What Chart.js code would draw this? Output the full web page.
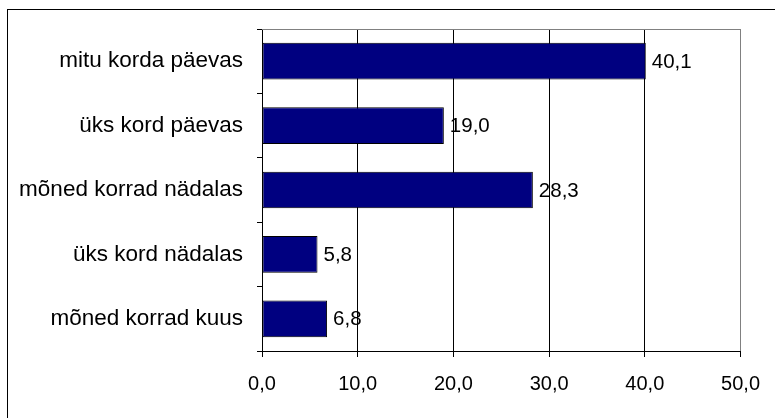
<!DOCTYPE html>
<html lang="et">
<head>
<meta charset="UTF-8">
<title>Sagedus</title>
<script src="https://cdn.jsdelivr.net/npm/chart.js@4.4.1/dist/chart.umd.min.js"></script>
<style>
  html, body { margin: 0; padding: 0; background: #fff; }
  #wrap { position: relative; width: 775px; height: 418px; }
</style>
</head>
<body>
<div id="wrap"><canvas id="c" width="775" height="418"></canvas></div>
<script>
// andmed
const categories = ['mitu korda päevas', 'üks kord päevas', 'mõned korrad nädalas', 'üks kord nädalas', 'mõned korrad kuus'];
const values = [40.1, 19.0, 28.3, 5.8, 6.8];
const xTicks = [0, 10, 20, 30, 40, 50];

const fmt = v => v.toFixed(1).replace('.', ',');
const FONT = "'Liberation Sans', Arial, sans-serif";

// raam ja plotiala ülemine joon
const framePlugin = {
  id: 'frame',
  beforeDatasetsDraw(chart) {
    const { ctx, chartArea: a } = chart;
    ctx.save();
    ctx.strokeStyle = '#808080';
    ctx.lineWidth = 1;
    ctx.beginPath();
    ctx.moveTo(a.left, a.top + 0.5);
    ctx.lineTo(a.right, a.top + 0.5);
    ctx.stroke();
    ctx.restore();
  },
  afterDraw(chart) {
    const ctx = chart.ctx;
    ctx.save();
    ctx.strokeStyle = '#000';
    ctx.lineWidth = 1;
    ctx.strokeRect(7.5, 9.5, 900, 600);
    ctx.restore();
  }
};

// väärtuste sildid
const valueLabels = {
  id: 'valueLabels',
  afterDatasetsDraw(chart) {
    const ctx = chart.ctx;
    const meta = chart.getDatasetMeta(0);
    ctx.save();
    ctx.font = '20.5px ' + FONT;
    ctx.fillStyle = '#000';
    ctx.textAlign = 'left';
    ctx.textBaseline = 'middle';
    meta.data.forEach((bar, i) => {
      ctx.fillText(fmt(values[i]), bar.x + 6, bar.y + 1);
    });
    ctx.restore();
  }
};

new Chart(document.getElementById('c'), {
  type: 'bar',
  data: {
    labels: categories,
    datasets: [{
      data: values,
      backgroundColor: '#000080',
      borderColor: '#000000',
      borderWidth: 1,
      borderSkipped: false,
      categoryPercentage: 0.57,
      barPercentage: 1.0
    }]
  },
  options: {
    indexAxis: 'y',
    responsive: false,
    animation: false,
    layout: { padding: { top: 29, right: 33, left: 0, bottom: 0 } },
    plugins: { legend: { display: false }, tooltip: { enabled: false } },
    scales: {
      x: {
        min: 0, max: 50,
        afterBuildTicks(scale) { scale.ticks = xTicks.map(v => ({ value: v })); },
        afterFit(scale) { scale.height = 67; },
        ticks: {
          callback: v => fmt(v),
          color: '#000',
          font: { family: FONT, size: 20 },
          padding: 15,
          maxRotation: 0
        },
        grid: {
          color: c => (c.tick && c.tick.value === 50) ? '#808080' : '#000',
          tickColor: '#000',
          tickLength: 6,
          lineWidth: 1
        },
        border: { color: '#000', width: 1 }
      },
      y: {
        afterFit(scale) { scale.width = 262; },
        ticks: {
          color: '#000',
          font: { family: FONT, size: 22.5 },
          padding: 14
        },
        grid: {
          drawOnChartArea: false,
          drawTicks: true,
          tickLength: 5,
          offset: true,
          color: '#000'
        },
        border: { color: '#000', width: 1 }
      }
    }
  },
  plugins: [framePlugin, valueLabels]
});
</script>
</body>
</html>
